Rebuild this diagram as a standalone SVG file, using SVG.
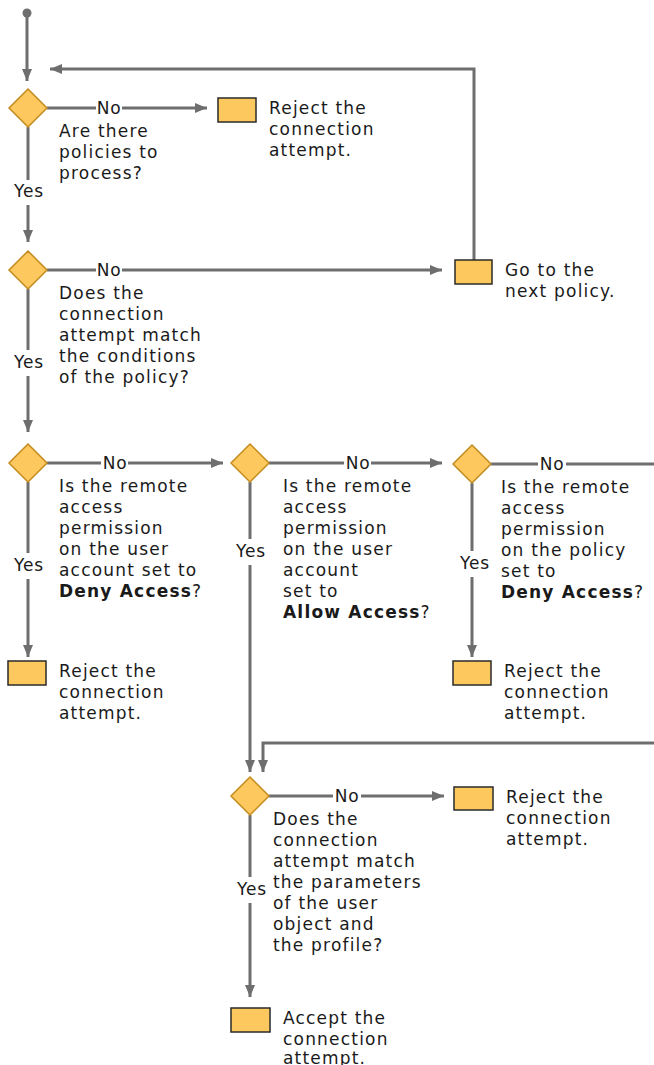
<svg xmlns="http://www.w3.org/2000/svg" width="654" height="1065" viewBox="0 0 654 1065">
  <style>
    .txt { font-family: "DejaVu Sans", Verdana, sans-serif; font-size: 17px; letter-spacing: 1.2px; fill: #1a1a1a; }
    .lbl { font-family: "DejaVu Sans", Verdana, sans-serif; font-size: 17px; letter-spacing: 0.8px; fill: #1a1a1a; text-anchor: middle; }
    .b { font-weight: bold; }
    .ln { stroke: #6e6e6e; stroke-width: 3; fill: none; }
    .dia { fill: #fdc95f; stroke: #c48a1e; stroke-width: 1.5; }
    .box { fill: #fdc95f; stroke: #2a2a2a; stroke-width: 1.5; }
  </style>
  <defs>
    <marker id="arr" viewBox="0 0 12 10" refX="12" refY="5" markerWidth="12" markerHeight="10" markerUnits="userSpaceOnUse" orient="auto">
      <path d="M0,0 L12,5 L0,10 z" fill="#6e6e6e"/>
    </marker>
  </defs>

  <!-- connectors -->
  <g id="connectors">
    <circle cx="27" cy="13" r="4.5" fill="#6e6e6e"/>
    <line class="ln" x1="27" y1="13" x2="27" y2="81" marker-end="url(#arr)"/>
    <polyline class="ln" points="474,260 474,69 50,69" marker-end="url(#arr)"/>

    <!-- decision 1 -->
    <line class="ln" x1="47" y1="108" x2="96" y2="108"/>
    <text class="lbl" x="109" y="114">No</text>
    <line class="ln" x1="122" y1="108" x2="207" y2="108" marker-end="url(#arr)"/>
    <line class="ln" x1="28" y1="127" x2="28" y2="180"/>
    <text class="lbl" x="29" y="197">Yes</text>
    <line class="ln" x1="28" y1="205" x2="28" y2="242" marker-end="url(#arr)"/>

    <!-- decision 2 -->
    <line class="ln" x1="47" y1="270" x2="96" y2="270"/>
    <text class="lbl" x="109" y="276">No</text>
    <line class="ln" x1="122" y1="270" x2="442" y2="270" marker-end="url(#arr)"/>
    <line class="ln" x1="28" y1="289" x2="28" y2="350"/>
    <text class="lbl" x="29" y="368">Yes</text>
    <line class="ln" x1="28" y1="376" x2="28" y2="432" marker-end="url(#arr)"/>

    <!-- decision 3 -->
    <line class="ln" x1="47" y1="463" x2="101" y2="463"/>
    <text class="lbl" x="115" y="469">No</text>
    <line class="ln" x1="128" y1="463" x2="223" y2="463" marker-end="url(#arr)"/>
    <line class="ln" x1="28" y1="482" x2="28" y2="553"/>
    <text class="lbl" x="29" y="571">Yes</text>
    <line class="ln" x1="28" y1="579" x2="28" y2="657" marker-end="url(#arr)"/>

    <!-- decision 4 -->
    <line class="ln" x1="269" y1="463" x2="344" y2="463"/>
    <text class="lbl" x="358" y="469">No</text>
    <line class="ln" x1="371" y1="463" x2="442" y2="463" marker-end="url(#arr)"/>
    <line class="ln" x1="250" y1="482" x2="250" y2="539"/>
    <text class="lbl" x="251" y="557">Yes</text>
    <line class="ln" x1="250" y1="565" x2="250" y2="772" marker-end="url(#arr)"/>

    <!-- decision 5 -->
    <line class="ln" x1="491" y1="464" x2="538" y2="464"/>
    <text class="lbl" x="552" y="470">No</text>
    <line class="ln" x1="566" y1="464" x2="654" y2="464"/>
    <line class="ln" x1="472" y1="483" x2="472" y2="551"/>
    <text class="lbl" x="475" y="569">Yes</text>
    <line class="ln" x1="472" y1="577" x2="472" y2="657" marker-end="url(#arr)"/>

    <!-- return path into decision 6 -->
    <polyline class="ln" points="654,743 263,743 263,772" marker-end="url(#arr)"/>

    <!-- decision 6 -->
    <line class="ln" x1="269" y1="796" x2="333" y2="796"/>
    <text class="lbl" x="347" y="802">No</text>
    <line class="ln" x1="361" y1="796" x2="444" y2="796" marker-end="url(#arr)"/>
    <line class="ln" x1="250" y1="815" x2="250" y2="877"/>
    <text class="lbl" x="252" y="895">Yes</text>
    <line class="ln" x1="250" y1="903" x2="250" y2="997" marker-end="url(#arr)"/>
  </g>

  <!-- decision 1 -->
  <g id="d1">
    <polygon class="dia" points="28,89 47,108 28,127 9,108"/>
    <text class="txt"><tspan x="59" y="137">Are there</tspan><tspan x="59" y="158">policies to</tspan><tspan x="59" y="179">process?</tspan></text>
  </g>
  <g id="r1">
    <rect class="box" x="218" y="98" width="38" height="24"/>
    <text class="txt"><tspan x="269" y="114">Reject the</tspan><tspan x="269" y="135">connection</tspan><tspan x="269" y="156">attempt.</tspan></text>
  </g>

  <!-- decision 2 -->
  <g id="d2">
    <polygon class="dia" points="28,251 47,270 28,289 9,270"/>
    <text class="txt"><tspan x="59" y="299">Does the</tspan><tspan x="59" y="320">connection</tspan><tspan x="59" y="341">attempt match</tspan><tspan x="59" y="362">the conditions</tspan><tspan x="59" y="383">of the policy?</tspan></text>
  </g>
  <g id="r2">
    <rect class="box" x="455" y="260" width="37" height="24"/>
    <text class="txt"><tspan x="505" y="276">Go to the</tspan><tspan x="505" y="297">next policy.</tspan></text>
  </g>

  <!-- decision 3 -->
  <g id="d3">
    <polygon class="dia" points="28,444 47,463 28,482 9,463"/>
    <text class="txt"><tspan x="59" y="492">Is the remote</tspan><tspan x="59" y="513">access</tspan><tspan x="59" y="534">permission</tspan><tspan x="59" y="555">on the user</tspan><tspan x="59" y="576">account set to</tspan><tspan x="59" y="597"><tspan class="b">Deny Access</tspan>?</tspan></text>
  </g>
  <g id="r3">
    <rect class="box" x="8" y="661" width="38" height="24"/>
    <text class="txt"><tspan x="59" y="677">Reject the</tspan><tspan x="59" y="698">connection</tspan><tspan x="59" y="719">attempt.</tspan></text>
  </g>

  <!-- decision 4 -->
  <g id="d4">
    <polygon class="dia" points="250,444 269,463 250,482 231,463"/>
    <text class="txt"><tspan x="283" y="492">Is the remote</tspan><tspan x="283" y="513">access</tspan><tspan x="283" y="534">permission</tspan><tspan x="283" y="555">on the user</tspan><tspan x="283" y="576">account</tspan><tspan x="283" y="597">set to</tspan><tspan x="283" y="618"><tspan class="b">Allow Access</tspan>?</tspan></text>
  </g>

  <!-- decision 5 -->
  <g id="d5">
    <polygon class="dia" points="472,445 491,464 472,483 453,464"/>
    <text class="txt"><tspan x="501" y="493">Is the remote</tspan><tspan x="501" y="514">access</tspan><tspan x="501" y="535">permission</tspan><tspan x="501" y="556">on the policy</tspan><tspan x="501" y="577">set to</tspan><tspan x="501" y="598"><tspan class="b">Deny Access</tspan>?</tspan></text>
  </g>
  <g id="r5">
    <rect class="box" x="453" y="661" width="38" height="24"/>
    <text class="txt"><tspan x="504" y="677">Reject the</tspan><tspan x="504" y="698">connection</tspan><tspan x="504" y="719">attempt.</tspan></text>
  </g>

  <!-- decision 6 -->
  <g id="d6">
    <polygon class="dia" points="250,777 269,796 250,815 231,796"/>
    <text class="txt"><tspan x="273" y="825">Does the</tspan><tspan x="273" y="846">connection</tspan><tspan x="273" y="867">attempt match</tspan><tspan x="273" y="888">the parameters</tspan><tspan x="273" y="909">of the user</tspan><tspan x="273" y="930">object and</tspan><tspan x="273" y="951">the profile?</tspan></text>
  </g>
  <g id="r6">
    <rect class="box" x="454" y="787" width="39" height="23"/>
    <text class="txt"><tspan x="506" y="803">Reject the</tspan><tspan x="506" y="824">connection</tspan><tspan x="506" y="845">attempt.</tspan></text>
  </g>
  <g id="r7">
    <rect class="box" x="231" y="1008" width="39" height="24"/>
    <text class="txt"><tspan x="283" y="1024">Accept the</tspan><tspan x="283" y="1045">connection</tspan><tspan x="283" y="1064">attempt.</tspan></text>
  </g>
</svg>
